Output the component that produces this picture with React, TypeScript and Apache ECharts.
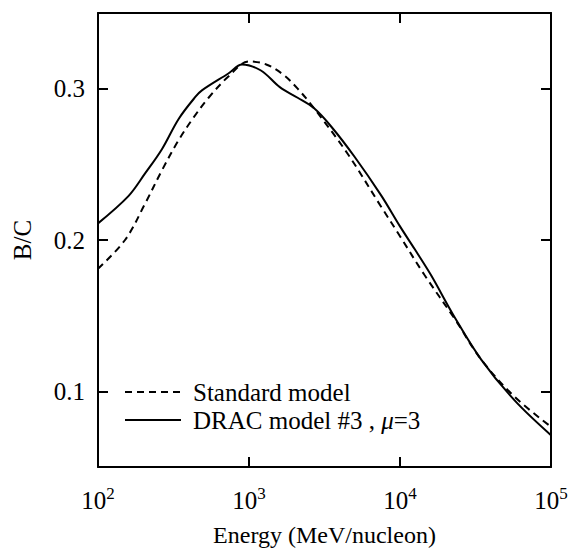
import React, { useEffect, useRef } from "react";
import * as echarts from "echarts";

const energyStandard = [100, 151, 205, 265, 342, 430, 540, 730, 1000, 1300, 1700, 2100, 2700, 4500, 7500, 10000, 14500, 23000, 34500, 57400, 100000];
const bcStandard = [0.181, 0.2, 0.224, 0.246, 0.266, 0.281, 0.294, 0.308, 0.318, 0.316, 0.309, 0.3, 0.287, 0.257, 0.222, 0.2025, 0.177, 0.148, 0.121, 0.0964, 0.0766];

const energyDrac = [100, 159, 205, 265, 342, 441, 490, 730, 900, 1200, 1600, 2100, 2700, 3500, 5000, 7500, 10000, 12500, 16000, 23000, 34500, 57400, 100000];
const bcDrac = [0.211, 0.229, 0.244, 0.26, 0.28, 0.2945, 0.299, 0.31, 0.316, 0.312, 0.301, 0.294, 0.287, 0.275, 0.255, 0.2295, 0.209, 0.194, 0.177, 0.149, 0.121, 0.094, 0.071];

const yTicks = [0.1, 0.2, 0.3];
const seriesNames = ["Standard model", "DRAC model #3"];

const FONT = '"Liberation Serif", "DejaVu Serif", serif';

export default function App() {
  const ref = useRef<HTMLDivElement>(null);
  useEffect(() => {
    if (!ref.current) return;
    const chart = echarts.init(ref.current, null, { renderer: "svg" });
    const pair = (xs: number[], ys: number[]) => xs.map((x, i) => [x, ys[i]]);
    const xLabel = (v: number) => {
      const p = Math.round(Math.log10(v));
      return `{b|10}{s|${p}}`;
    };
    const common = {
      axisLine: { show: true, lineStyle: { color: "#000", width: 2 } },
      splitLine: { show: false },
    };
    chart.setOption({
      animation: false,
      backgroundColor: "#fff",
      grid: { left: 98, right: 17, top: 13, bottom: 84, outerBoundsMode: "none", containLabel: false },
      xAxis: [
        {
          type: "log",
          logBase: 10,
          min: 100,
          max: 100000,
          ...common,
          axisTick: { inside: true, length: 10, lineStyle: { color: "#000", width: 2 } },
          minorTick: { show: false },
          axisLabel: {
            formatter: xLabel,
            margin: 18,
            rich: {
              b: { fontFamily: FONT, fontSize: 25, color: "#000" },
              s: { fontFamily: FONT, fontSize: 17, color: "#000", padding: [0, 0, 14, 0] },
            },
          },
          name: "Energy (MeV/nucleon)",
          nameLocation: "middle",
          nameGap: 56,
          nameTextStyle: { fontFamily: FONT, fontSize: 24, color: "#000" },
        },
        {
          type: "log",
          logBase: 10,
          min: 100,
          max: 100000,
          position: "top",
          ...common,
          axisTick: { inside: true, length: 10, lineStyle: { color: "#000", width: 2 } },
          axisLabel: { show: false },
        },
      ],
      yAxis: [
        {
          type: "value",
          min: 0.05,
          max: 0.35,
          ...common,
          axisTick: { inside: true, length: 10, customValues: yTicks, lineStyle: { color: "#000", width: 2 } },
          axisLabel: {
            customValues: yTicks,
            formatter: (v: number) => v.toFixed(1),
            margin: 13,
            fontFamily: FONT,
            fontSize: 25,
            color: "#000",
          },
          name: "B/C",
          nameLocation: "middle",
          nameGap: 63,
          nameTextStyle: { fontFamily: FONT, fontSize: 25, color: "#000" },
        },
        {
          type: "value",
          min: 0.05,
          max: 0.35,
          position: "right",
          ...common,
          axisTick: { inside: true, length: 10, customValues: yTicks, lineStyle: { color: "#000", width: 2 } },
          axisLabel: { show: false },
        },
      ],
      series: [
        {
          name: seriesNames[0],
          type: "line",
          data: pair(energyStandard, bcStandard),
          showSymbol: false,
          symbol: "none",
          smooth: 0.35,
          lineStyle: { color: "#000", width: 2, type: [7, 5] },
        },
        {
          name: seriesNames[1],
          type: "line",
          data: pair(energyDrac, bcDrac),
          showSymbol: false,
          symbol: "none",
          smooth: 0.35,
          lineStyle: { color: "#000", width: 2 },
        },
      ],
      graphic: [
        { type: "line", shape: { x1: 125, y1: 392, x2: 181, y2: 392 }, style: { stroke: "#000", lineWidth: 2, lineDash: [7, 5] } },
        { type: "line", shape: { x1: 125, y1: 420, x2: 181, y2: 420 }, style: { stroke: "#000", lineWidth: 2 } },
        {
          type: "text",
          x: 193,
          y: 392,
          style: { text: seriesNames[0], fontFamily: FONT, fontSize: 25, fill: "#000", verticalAlign: "middle" },
        },
        {
          type: "text",
          x: 193,
          y: 420,
          style: {
            text: `{n|${seriesNames[1]} , }{i|μ}{n|=3}`,
            verticalAlign: "middle",
            rich: {
              n: { fontFamily: FONT, fontSize: 25, fill: "#000" },
              i: { fontFamily: FONT, fontSize: 25, fontStyle: "italic", fill: "#000" },
            },
          },
        },
      ],
    });
    return () => chart.dispose();
  }, []);
  return <div ref={ref} style={{ position: "fixed", left: 0, top: 0, width: 568, height: 551 }} />;
}
